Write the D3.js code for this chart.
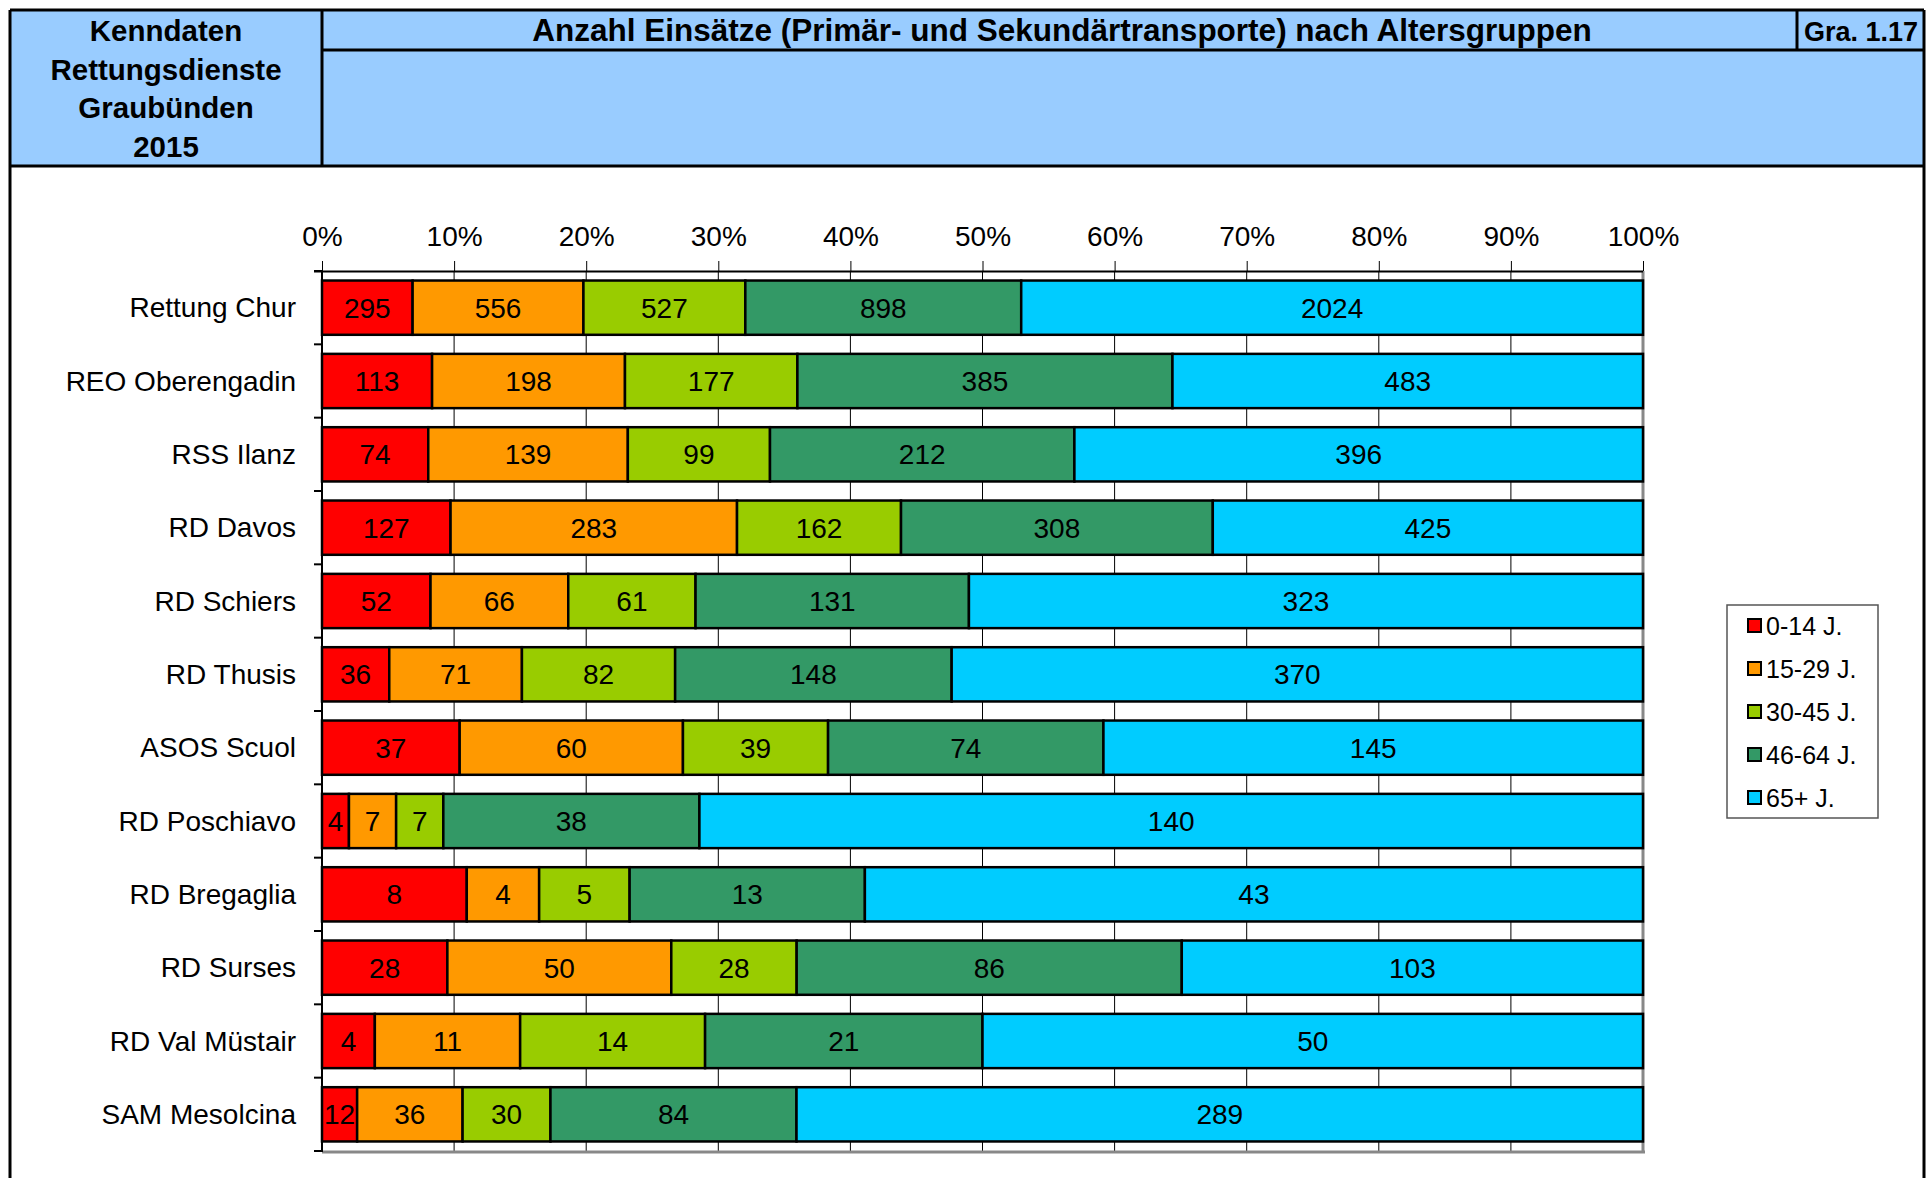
<!DOCTYPE html>
<html>
<head>
<meta charset="utf-8">
<script src="https://cdn.jsdelivr.net/npm/d3@7"></script>
<style>
  body { margin: 0; background: #fff; }
  svg { display: block; font-family: "Liberation Sans", Arial, sans-serif; }
</style>
</head>
<body>
<div id="chart"></div>
<script>
const stations = ['Rettung Chur', 'REO Oberengadin', 'RSS Ilanz', 'RD Davos', 'RD Schiers', 'RD Thusis',
    'ASOS Scuol', 'RD Poschiavo', 'RD Bregaglia', 'RD Surses', 'RD Val Müstair', 'SAM Mesolcina'];
const groups = ['0-14 J.', '15-29 J.', '30-45 J.', '46-64 J.', '65+ J.'];
const colors = ['#FF0000', '#FF9900', '#99CC00', '#339966', '#00CCFF'];

const age0_14  = [295, 113, 74, 127, 52, 36, 37, 4, 8, 28, 4, 12];
const age15_29 = [556, 198, 139, 283, 66, 71, 60, 7, 4, 50, 11, 36];
const age30_45 = [527, 177, 99, 162, 61, 82, 39, 7, 5, 28, 14, 30];
const age46_64 = [898, 385, 212, 308, 131, 148, 74, 38, 13, 86, 21, 84];
const age65    = [2024, 483, 396, 425, 323, 370, 145, 140, 43, 103, 50, 289];
const tickValues = [0, 0.1, 0.2, 0.3, 0.4, 0.5, 0.6, 0.7, 0.8, 0.9, 1];

const W = 1927, H = 1178;
const svg = d3.select('#chart').append('svg')
    .attr('width', W)
    .attr('height', H);

// header
const hdr = svg.append('g');
hdr.append('rect').attr('x', 10).attr('y', 10).attr('width', 1914).attr('height', 156)
    .attr('fill', '#99CCFF');
hdr.append('line').attr('x1', 10).attr('x2', 1924).attr('y1', 10).attr('y2', 10)
    .attr('stroke', '#000').attr('stroke-width', 3);
hdr.append('line').attr('x1', 322).attr('x2', 1924).attr('y1', 50).attr('y2', 50)
    .attr('stroke', '#000').attr('stroke-width', 3);
hdr.append('line').attr('x1', 10).attr('x2', 1924).attr('y1', 166).attr('y2', 166)
    .attr('stroke', '#000').attr('stroke-width', 3);
hdr.append('line').attr('x1', 322).attr('x2', 322).attr('y1', 10).attr('y2', 166)
    .attr('stroke', '#000').attr('stroke-width', 3);
hdr.append('line').attr('x1', 1797).attr('x2', 1797).attr('y1', 10).attr('y2', 50)
    .attr('stroke', '#000').attr('stroke-width', 3);
// outer frame sides
svg.append('line').attr('x1', 10).attr('x2', 10).attr('y1', 10).attr('y2', H)
    .attr('stroke', '#000').attr('stroke-width', 3);
svg.append('line').attr('x1', 1924).attr('x2', 1924).attr('y1', 10).attr('y2', H)
    .attr('stroke', '#000').attr('stroke-width', 3);

const leftLines = ['Kenndaten', 'Rettungsdienste', 'Graubünden', '2015'];
hdr.selectAll('text.left')
    .data(leftLines)
    .enter()
    .append('text')
    .attr('x', 166)
    .attr('y', (d, i) => 41 + i * 38.5)
    .attr('text-anchor', 'middle')
    .attr('font-weight', 'bold')
    .attr('font-size', 29.5)
    .text(d => d);
hdr.append('text').attr('x', 1062).attr('y', 41).attr('text-anchor', 'middle')
    .attr('font-weight', 'bold').attr('font-size', 31.5)
    .text('Anzahl Einsätze (Primär- und Sekundärtransporte) nach Altersgruppen');
hdr.append('text').attr('x', 1861).attr('y', 41).attr('text-anchor', 'middle')
    .attr('font-weight', 'bold').attr('font-size', 27)
    .text('Gra. 1.17');

// chart
const plotTop = 271, plotBottom = 1151;
const x = d3.scaleLinear().domain([0, 1]).range([322, 1643]);
const y = d3.scaleBand().domain(stations).range([plotTop, plotBottom]).paddingInner(0.26).paddingOuter(0.13);

const rows = stations.map((s, i) => {
    const vals = [age0_14[i], age15_29[i], age30_45[i], age46_64[i], age65[i]];
    const total = d3.sum(vals);
    let acc = 0;
    return vals.map((v, k) => {
        const seg = { station: s, group: k, value: v, x0: acc / total, x1: (acc + v) / total };
        acc += v;
        return seg;
    });
});

// gridlines
svg.append('g')
    .selectAll('line')
    .data(tickValues.slice(1))
    .enter()
    .append('line')
    .attr('x1', d => x(d)).attr('x2', d => x(d))
    .attr('y1', plotTop).attr('y2', plotBottom)
    .attr('stroke', d => d === 1 ? '#888' : '#000')
    .attr('stroke-width', d => d === 1 ? 3 : 1);
svg.append('line').attr('x1', 322).attr('x2', 1645).attr('y1', plotBottom + 1).attr('y2', plotBottom + 1)
    .attr('stroke', '#888').attr('stroke-width', 3);

// top axis
const xAxis = svg.append('g')
    .attr('transform', `translate(0,${plotTop})`)
    .call(d3.axisTop(x).tickValues(tickValues).tickFormat(d3.format('.0%')).tickSizeInner(10).tickSizeOuter(0));
xAxis.select('.domain').attr('stroke', '#000').attr('stroke-width', 2).attr('d', 'M314,0.5H1643');
xAxis.selectAll('.tick line').attr('stroke', '#000');
xAxis.selectAll('.tick text')
    .attr('font-size', 28)
    .attr('font-family', '"Liberation Sans", Arial, sans-serif')
    .attr('fill', '#000')
    .attr('dy', -12);

// left axis ticks
const yAxis = svg.append('g');
yAxis.append('line').attr('x1', 322).attr('x2', 322).attr('y1', plotTop).attr('y2', plotBottom + 1)
    .attr('stroke', '#000').attr('stroke-width', 2);
yAxis.selectAll('line.tk')
    .data(d3.range(stations.length + 1))
    .enter()
    .append('line')
    .attr('class', 'tk')
    .attr('x1', 314).attr('x2', 322)
    .attr('y1', i => plotTop + i * y.step())
    .attr('y2', i => plotTop + i * y.step())
    .attr('stroke', '#000').attr('stroke-width', 2);
yAxis.selectAll('text')
    .data(stations)
    .enter()
    .append('text')
    .attr('x', 296)
    .attr('y', d => y(d) + y.bandwidth() / 2)
    .attr('dy', '0.35em')
    .attr('text-anchor', 'end')
    .attr('font-size', 28)
    .text(d => d);

// bars
const segs = rows.flat();
svg.append('g')
    .selectAll('rect')
    .data(segs)
    .enter()
    .append('rect')
    .attr('x', d => x(d.x0))
    .attr('y', d => y(d.station))
    .attr('width', d => x(d.x1) - x(d.x0))
    .attr('height', y.bandwidth())
    .attr('fill', d => colors[d.group])
    .attr('stroke', '#000')
    .attr('stroke-width', 2.5);

svg.append('g')
    .selectAll('text')
    .data(segs)
    .enter()
    .append('text')
    .attr('x', d => (x(d.x0) + x(d.x1)) / 2)
    .attr('y', d => y(d.station) + y.bandwidth() / 2)
    .attr('dy', '0.36em')
    .attr('text-anchor', 'middle')
    .attr('font-size', 28)
    .text(d => d.value);

// legend
const lg = svg.append('g');
lg.append('rect').attr('x', 1727).attr('y', 605).attr('width', 151).attr('height', 213)
    .attr('fill', '#fff').attr('stroke', '#555').attr('stroke-width', 1.5);
const items = lg.selectAll('g.item')
    .data(groups)
    .enter()
    .append('g')
    .attr('transform', (d, i) => `translate(1748,${626 + i * 43})`);
items.append('rect')
    .attr('x', 0).attr('y', -7).attr('width', 13).attr('height', 13)
    .attr('fill', (d, i) => colors[i])
    .attr('stroke', '#000').attr('stroke-width', 2);
items.append('text')
    .attr('x', 18).attr('y', 0).attr('dy', '0.36em')
    .attr('font-size', 25)
    .text(d => d);
</script>
</body>
</html>
